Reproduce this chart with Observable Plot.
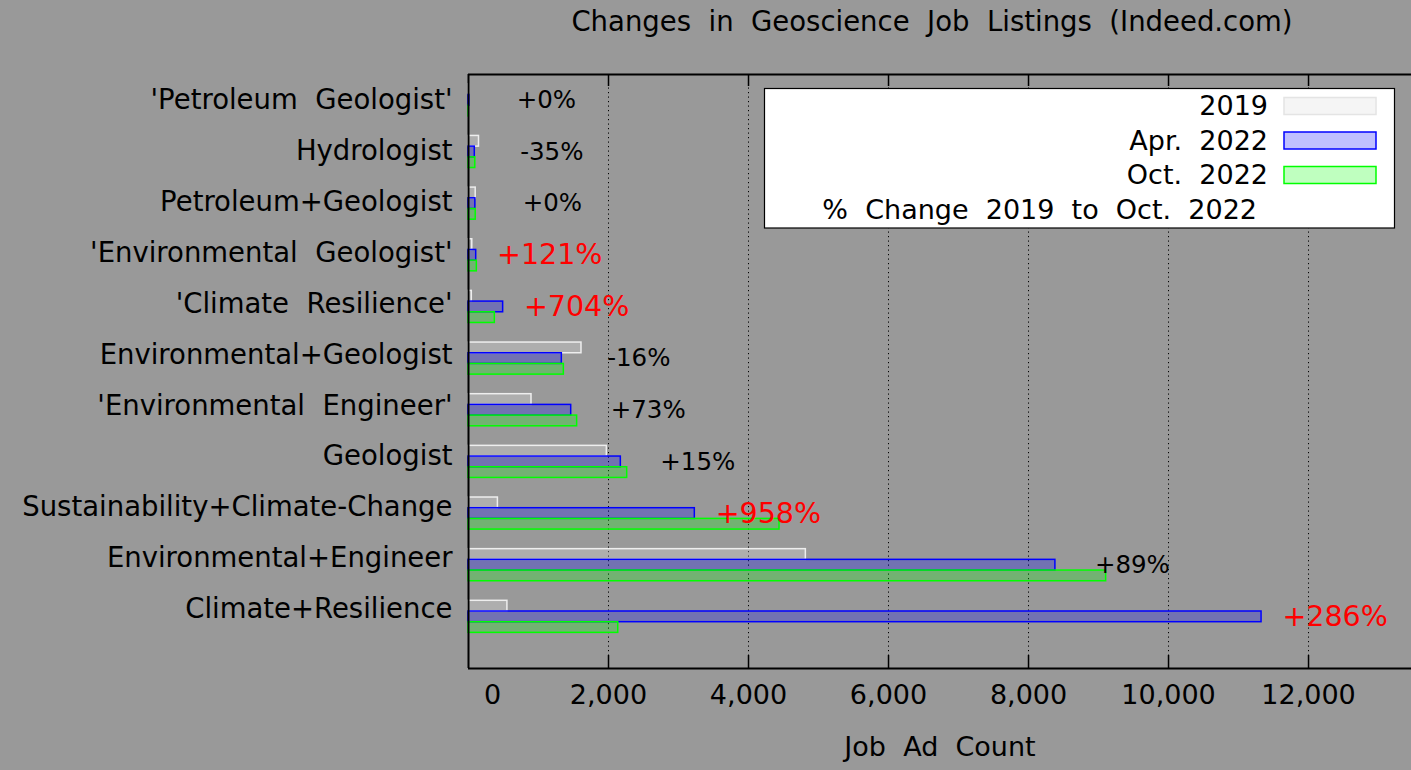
<!DOCTYPE html>
<html>
<head>
<meta charset="utf-8">
<script src="https://cdn.jsdelivr.net/npm/d3@7"></script>
<script src="https://cdn.jsdelivr.net/npm/@observablehq/plot@0.6"></script>
<style>
  html, body { margin: 0; padding: 0; background: #999999; }
  svg text { white-space: pre; }
</style>
</head>
<body>
<div id="chart"></div>
<script>
// ---- data ----
const categories = [
  "'Petroleum Geologist'",
  "Hydrologist",
  "Petroleum+Geologist",
  "'Environmental Geologist'",
  "'Climate Resilience'",
  "Environmental+Geologist",
  "'Environmental Engineer'",
  "Geologist",
  "Sustainability+Climate-Change",
  "Environmental+Engineer",
  "Climate+Resilience"
];
const jobs2019    = [5, 150, 103, 54, 47, 1614, 900, 1976, 420, 4819, 556];
const jobsApr2022 = [12, 90, 98, 110, 495, 1333, 1467, 2176, 3233, 8384, 11329];
const jobsOct2022 = [5, 97, 103, 119, 376, 1362, 1552, 2267, 4443, 9109, 2139];
const pctChange   = [0, -35, 0, 121, 704, -16, 73, 15, 958, 89, 286];
const seriesNames = ["2019", "Apr. 2022", "Oct. 2022"];
const xTicks = [0, 2000, 4000, 6000, 8000, 10000, 12000];
const title = "Changes in Geoscience Job Listings (Indeed.com)";
const xLabel = "Job Ad Count";
const pctLegend = "% Change 2019 to Oct. 2022";

// ---- styles ----
const FONT = "DejaVu Sans";
const seriesStroke = ["#eeeeee", "#0000ff", "#00ff00"];
const seriesLegendFill = ["#f5f5f5", "#bfbfff", "#bfffbf"];
const wide = s => s.replaceAll(" ", "  ");
const BAR = 0.207;
const LABEL_STEP = 0.9855;

const series = [jobs2019, jobsApr2022, jobsOct2022];
const bars = series.map((vals, s) => vals.map((v, i) => ({row: i, value: v, off: (s - 1) * BAR})));
const rows = categories.map((c, i) => ({i, c, apr: jobsApr2022[i], pct: pctChange[i]}));
const fmtPct = p => (p >= 0 ? "+" : "") + p + "%";

const gridTicks = xTicks.filter(t => t > 0);
const plotH = 668 - 74;

const marks = [
  Plot.ruleX(gridTicks, {stroke: "black", strokeWidth: 1, strokeDasharray: "1.2,3.3"}),
  ...bars.map((b, s) => Plot.rect(b, {
    x1: 0, x2: "value",
    y1: d => d.row + d.off - BAR / 2, y2: d => d.row + d.off + BAR / 2,
    fill: seriesStroke[s], fillOpacity: 0.25,
    stroke: seriesStroke[s], strokeWidth: 1.5
  })),
  Plot.ruleX(gridTicks, {stroke: "black", strokeWidth: 1.5, insetTop: plotH - 13}),
  Plot.ruleX(gridTicks, {stroke: "black", strokeWidth: 1.5, insetBottom: plotH - 12}),
  Plot.ruleX([0], {stroke: "black", strokeWidth: 2}),
  Plot.ruleY([-0.5, 11], {stroke: "black", strokeWidth: 2}),
  Plot.text(gridTicks, {x: d => d, frameAnchor: "bottom", dy: 35, text: d3.format(","), fontSize: 27, fill: "black"}),
  Plot.text([0], {x: d => d, frameAnchor: "bottom", dy: 35, dx: 24, text: d => String(d), fontSize: 27, fill: "black"}),
  Plot.text([xLabel], {frameAnchor: "bottom", dy: 87, text: d => wide(d), fontSize: 27, fill: "black"}),
  Plot.text(rows, {x: 0, y: d => d.i * LABEL_STEP, text: d => wide(d.c), textAnchor: "end", dx: -16, fontSize: 27.5, fill: "black"}),
  Plot.text(rows.filter(d => d.pct <= 100), {x: "apr", y: "i", text: d => fmtPct(d.pct), dx: 77, fontSize: 24.5, fill: "black"}),
  Plot.text(rows.filter(d => d.pct > 100), {x: "apr", y: "i", text: d => fmtPct(d.pct), dx: 73.5, fontSize: 28.5, fill: "#ff0000"})
];

const chart = Plot.plot({
  width: 1411,
  height: 770,
  marginLeft: 468,
  marginRight: 0,
  marginTop: 74,
  marginBottom: 102,
  style: {background: "#999999", fontFamily: FONT, fontSize: "27px", color: "black", overflow: "visible"},
  x: {domain: [0, 13471], range: [468, 1411], axis: null},
  y: {domain: [-0.5, 11], range: [74, 668], axis: null},
  marks
});

// Title and legend drawn into the same SVG
const svg = d3.select(chart);
svg.append("text")
  .attr("x", 932).attr("y", 21).attr("dy", "0.35em")
  .attr("text-anchor", "middle")
  .style("font-family", FONT).style("font-size", "27.5px").attr("fill", "black")
  .text(wide(title));

const lg = svg.append("g");
lg.append("rect").attr("x", 764.5).attr("y", 88.5).attr("width", 630).attr("height", 139.5)
  .attr("fill", "white").attr("stroke", "black").attr("stroke-width", 1.2);
seriesNames.forEach((name, s) => {
  const cy = 106 + s * 34.5;
  lg.append("text").attr("x", 1268).attr("y", cy).attr("dy", "0.35em").attr("text-anchor", "end")
    .style("font-family", FONT).style("font-size", "27px").attr("fill", "black").text(wide(name));
  lg.append("rect").attr("x", 1284).attr("y", cy - 8.5).attr("width", 92).attr("height", 17)
    .attr("fill", seriesLegendFill[s]).attr("stroke", s === 0 ? "#e4e4e4" : seriesStroke[s]).attr("stroke-width", 1.5);
});
lg.append("text").attr("x", 1257).attr("y", 209.5).attr("dy", "0.35em").attr("text-anchor", "end")
  .style("font-family", FONT).style("font-size", "27px").attr("fill", "black").text(wide(pctLegend));

document.getElementById("chart").appendChild(chart);
</script>
</body>
</html>
